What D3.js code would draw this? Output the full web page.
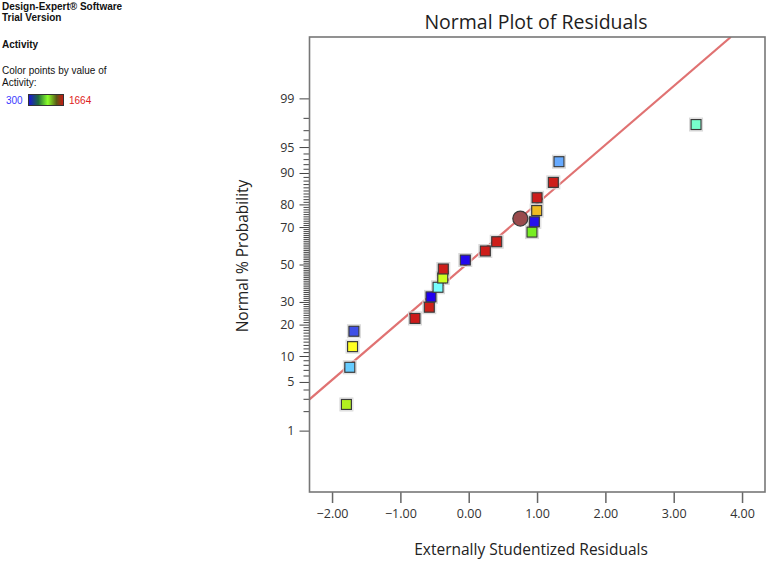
<!DOCTYPE html>
<html>
<head>
<meta charset="utf-8">
<script src="https://cdn.jsdelivr.net/npm/d3@7"></script>
<style>
  html, body { margin: 0; padding: 0; background: #fff; }
  svg { display: block; }
</style>
</head>
<body>
<svg id="chart" width="767" height="562"></svg>
<script>
// ---------------- DATA ----------------
// Externally studentized residuals (x) and their normal % probability (y)
const residuals = [-1.79, -1.74, -1.70, -1.68, -0.786, -0.577, -0.552, -0.449, -0.380, -0.372,
                   -0.050, 0.243, 0.410, 0.926, 0.960, 0.995, 1.000, 1.238, 1.321, 3.327];
const probabilities = [2.5, 7.5, 12.5, 17.5, 22.5, 27.5, 32.5, 37.5, 42.5, 47.5,
                       52.5, 57.5, 62.5, 67.5, 72.5, 77.5, 82.5, 87.5, 92.5, 97.5];
// Activity value of each run (used for point colour)
const activity = [820, 550, 900, 400, 1664, 1640, 300, 600, 860, 1650,
                  310, 1655, 1645, 750, 320, 1100, 1660, 1650, 500, 650];
// highlighted point (circle)
const highlightResidual = [0.755];
const highlightProbability = [74.0];
// reference line: normal with this mean / sd of residuals
const lineMean = -0.035;
const lineSd = 1.215;
// axis ticks
const xTicks = [-2, -1, 0, 1, 2, 3, 4];
const yMajorTicks = [1, 5, 10, 20, 30, 50, 70, 80, 90, 95, 99];
const yMinorTicks = d3.range(2, 99).filter(v => !yMajorTicks.includes(v));
// colour legend
const activityMin = 300, activityMax = 1664;
const colorStops = [300, 400, 500, 550, 600, 650, 750, 820, 860, 900, 1100, 1664];
const colorValues = ["#2000ee", "#3f4fe6", "#66aaff", "#66ccff", "#77ffff", "#77ffcc",
                     "#77ee22", "#b2f020", "#ccff22", "#ffff22", "#eebb22", "#cc1a1a"];

// ---------------- helpers ----------------
// inverse standard normal CDF (Acklam)
function probit(p) {
  const a = [-3.969683028665376e+01, 2.209460984245205e+02, -2.759285104469687e+02, 1.383577518672690e+02, -3.066479806614716e+01, 2.506628277459239e+00];
  const b = [-5.447609879822406e+01, 1.615858368580409e+02, -1.556989798598866e+02, 6.680131188771972e+01, -1.328068155288572e+01];
  const c = [-7.784894002430293e-03, -3.223964580411365e-01, -2.400758277161838e+00, -2.549732539343734e+00, 4.374664141464968e+00, 2.938163982698783e+00];
  const d = [7.784695709041462e-03, 3.224671290700398e-01, 2.445134137142996e+00, 3.754408661907416e+00];
  const pl = 0.02425, ph = 1 - pl;
  let q, r;
  if (p < pl) {
    q = Math.sqrt(-2 * Math.log(p));
    return (((((c[0]*q+c[1])*q+c[2])*q+c[3])*q+c[4])*q+c[5]) / ((((d[0]*q+d[1])*q+d[2])*q+d[3])*q+1);
  } else if (p <= ph) {
    q = p - 0.5; r = q * q;
    return (((((a[0]*r+a[1])*r+a[2])*r+a[3])*r+a[4])*r+a[5])*q / (((((b[0]*r+b[1])*r+b[2])*r+b[3])*r+b[4])*r+1);
  } else {
    q = Math.sqrt(-2 * Math.log(1 - p));
    return -(((((c[0]*q+c[1])*q+c[2])*q+c[3])*q+c[4])*q+c[5]) / ((((d[0]*q+d[1])*q+d[2])*q+d[3])*q+1);
  }
}
const pz = pct => probit(pct / 100);

// ---------------- layout ----------------
const svg = d3.select("#chart");
const plot = { left: 309.5, top: 37, right: 765, bottom: 492 };
const FONT = "'Open Sans', 'Noto Sans', sans-serif";

const x = d3.scaleLinear().domain([-2.33, 4.336]).range([plot.left, plot.right]);
const y = d3.scaleLinear().domain([-3.186, 3.186]).range([plot.bottom, plot.top]);
const color = d3.scaleLinear().domain(colorStops).range(colorValues).clamp(true);

// clip
svg.append("clipPath").attr("id", "clip").append("rect")
  .attr("x", plot.left).attr("y", plot.top)
  .attr("width", plot.right - plot.left).attr("height", plot.bottom - plot.top);

// title
svg.append("text").attr("x", 536).attr("y", 29).attr("text-anchor", "middle")
  .attr("font-family", FONT).attr("font-size", 19.5).attr("fill", "#1e1e1e")
  .text("Normal Plot of Residuals");

// reference line
const zTop = y.domain()[1];
const lineX0 = x.domain()[0], lineX1 = lineMean + zTop * lineSd;
svg.append("g").attr("clip-path", "url(#clip)").append("line")
  .attr("x1", x(lineX0)).attr("y1", y((lineX0 - lineMean) / lineSd))
  .attr("x2", x(lineX1)).attr("y2", y((lineX1 - lineMean) / lineSd))
  .attr("stroke", "#e07272").attr("stroke-width", 2.2);

// y axis: minor ticks (through a d3 axis on the probit scale)
const yAxisMinor = d3.axisLeft(y).tickValues(yMinorTicks.map(pz)).tickSize(6).tickFormat(() => "");
const gMinor = svg.append("g").attr("transform", `translate(${plot.left},0)`).call(yAxisMinor);
gMinor.select(".domain").remove();
gMinor.selectAll("line").attr("stroke", "#444").attr("stroke-width", 1);

// y axis: major ticks
const yAxisMajor = d3.axisLeft(y).tickValues(yMajorTicks.map(pz)).tickSize(10).tickPadding(5)
  .tickFormat((d, i) => yMajorTicks[i]);
const gMajor = svg.append("g").attr("transform", `translate(${plot.left},0)`).call(yAxisMajor);
gMajor.select(".domain").remove();
gMajor.selectAll("line").attr("stroke", "#444").attr("stroke-width", 1);
gMajor.selectAll("text").attr("font-family", FONT).attr("font-size", 12.5).attr("fill", "#333");

// x axis
const xAxis = d3.axisBottom(x).tickValues(xTicks).tickSize(11).tickPadding(6)
  .tickFormat(d3.format(".2f"));
const gx = svg.append("g").attr("transform", `translate(0,${plot.bottom})`).call(xAxis);
gx.select(".domain").remove();
gx.selectAll("line").attr("stroke", "#666").attr("stroke-width", 1.5);
gx.selectAll("text").attr("font-family", FONT).attr("font-size", 12.5).attr("fill", "#333");

// frame
svg.append("rect").attr("x", plot.left).attr("y", plot.top)
  .attr("width", plot.right - plot.left).attr("height", plot.bottom - plot.top)
  .attr("fill", "none").attr("stroke", "#777").attr("stroke-width", 1.6);

// points
const pts = residuals.map((r, i) => ({ r, p: probabilities[i], a: activity[i] }));
const sq = 10;
const gp = svg.append("g");
gp.selectAll("rect.halo").data(pts).join("rect").attr("class", "halo")
  .attr("x", d => x(d.r) - sq / 2 - 1.5).attr("y", d => y(pz(d.p)) - sq / 2 - 1.5)
  .attr("width", sq + 3).attr("height", sq + 3)
  .attr("fill", "none").attr("stroke", "#d8d8d8").attr("stroke-width", 1);
gp.selectAll("rect.pt").data(pts).join("rect").attr("class", "pt")
  .attr("x", d => x(d.r) - sq / 2).attr("y", d => y(pz(d.p)) - sq / 2)
  .attr("width", sq).attr("height", sq)
  .attr("fill", d => color(d.a))
  .attr("stroke", "#3a3a3a").attr("stroke-width", 1.2);

// highlighted circle
svg.append("g").selectAll("circle").data(highlightResidual).join("circle")
  .attr("cx", d => x(d)).attr("cy", (d, i) => y(pz(highlightProbability[i])))
  .attr("r", 7.5).attr("fill", "#9a4a4c").attr("stroke", "#3a3a3a").attr("stroke-width", 1.2);

// axis titles
svg.append("text").attr("x", 531).attr("y", 555).attr("text-anchor", "middle")
  .attr("font-family", FONT).attr("font-size", 15.5).attr("fill", "#222")
  .text("Externally Studentized Residuals");
svg.append("text").attr("transform", "translate(248,256) rotate(-90)").attr("text-anchor", "middle")
  .attr("font-family", FONT).attr("font-size", 15.5).attr("fill", "#222")
  .text("Normal % Probability");

// top-left info
const info = svg.append("g").attr("font-family", "'Liberation Sans', Arial, sans-serif").attr("fill", "#111");
info.append("text").attr("x", 2).attr("y", 9.5).attr("font-size", 10).attr("font-weight", "bold").text("Design-Expert® Software");
info.append("text").attr("x", 2).attr("y", 21).attr("font-size", 10).attr("font-weight", "bold").text("Trial Version");
info.append("text").attr("x", 2).attr("y", 47.5).attr("font-size", 10).attr("font-weight", "bold").text("Activity");
info.append("text").attr("x", 2).attr("y", 74).attr("font-size", 10).text("Color points by value of");
info.append("text").attr("x", 2).attr("y", 86).attr("font-size", 10).text("Activity:");
info.append("text").attr("x", 6).attr("y", 104).attr("font-size", 10).attr("fill", "#3a3aff").text(activityMin);
info.append("text").attr("x", 69).attr("y", 104).attr("font-size", 10).attr("fill", "#e02020").text(activityMax);

const grad = svg.append("defs").append("linearGradient").attr("id", "lg");
[[0, "#1a10e0"], [0.28, "#1e6a3a"], [0.55, "#8aff2a"], [0.8, "#5a5a14"], [1, "#cc1414"]]
  .forEach(([o, c]) => grad.append("stop").attr("offset", o).attr("stop-color", c));
svg.append("rect").attr("x", 28.5).attr("y", 94.5).attr("width", 35).attr("height", 11)
  .attr("fill", "url(#lg)").attr("stroke", "#333").attr("stroke-width", 1);
</script>
</body>
</html>
